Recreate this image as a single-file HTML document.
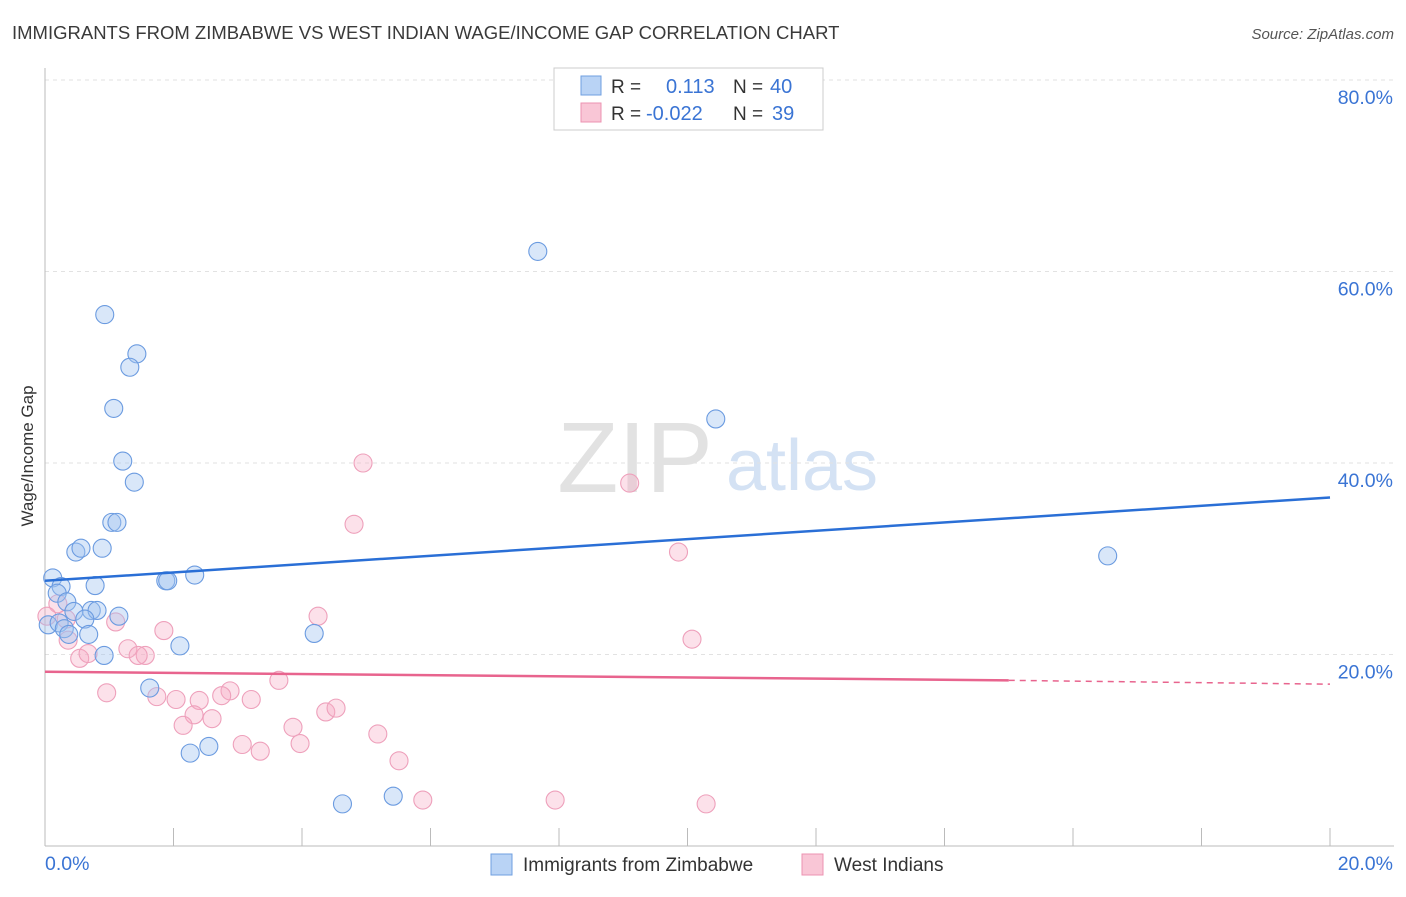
<!DOCTYPE html>
<html><head><meta charset="utf-8">
<style>
body{margin:0;background:#fff;font-family:"Liberation Sans",sans-serif;}
svg text{font-family:"Liberation Sans",sans-serif;}
</style></head>
<body>
<svg id="chart" width="1406" height="892">
<text x="12" y="39" font-size="18.5" fill="#3a3a3a">IMMIGRANTS FROM ZIMBABWE VS WEST INDIAN WAGE/INCOME GAP CORRELATION CHART</text>
<text x="1394" y="39" font-size="15" fill="#555" font-style="italic" text-anchor="end">Source: ZipAtlas.com</text>
<text x="33" y="456" font-size="17" fill="#333" text-anchor="middle" transform="rotate(-90 33 456)">Wage/Income Gap</text>
<g>
<text x="635" y="492" font-size="100" fill="#e2e2e2" font-family="Liberation Serif" text-anchor="middle">ZIP</text>
<text x="802" y="490" font-size="72" fill="#d4e2f4" text-anchor="middle">atlas</text>
</g>
<g id="grid"></g><g id="axes"></g><g id="marks"></g>
<g>
<rect x="554" y="68" width="269" height="62" fill="#fff" stroke="#ccc"/>
<rect x="581" y="76" width="20" height="19" fill="#b9d3f5" stroke="#6f9fe0"/>
<rect x="581" y="103" width="20" height="19" fill="#f9c6d6" stroke="#ec93b1"/>
<text x="611" y="93" font-size="19" fill="#333">R =</text><text x="666" y="93" font-size="20" fill="#3a74d4">0.113</text>
<text x="733" y="93" font-size="19" fill="#333">N =</text><text x="770" y="93" font-size="20" fill="#3a74d4">40</text>
<text x="611" y="120" font-size="19" fill="#333">R =</text><text x="646" y="120" font-size="20" fill="#3a74d4">-0.022</text>
<text x="733" y="120" font-size="19" fill="#333">N =</text><text x="772" y="120" font-size="20" fill="#3a74d4">39</text>
</g>
<g>
<rect x="491" y="854" width="21" height="21" fill="#b9d3f5" stroke="#6f9fe0"/>
<text x="523" y="871" font-size="19" fill="#333">Immigrants from Zimbabwe</text>
<rect x="802" y="854" width="21" height="21" fill="#f9c6d6" stroke="#ec93b1"/>
<text x="834" y="871" font-size="19" fill="#333">West Indians</text>
</g>
</svg>
<script>
const blueX=[7.67,0.93,1.43,1.32,1.07,1.21,1.39,10.44,16.54,1.04,1.12,0.48,0.56,0.89,0.12,0.25,0.78,1.88,1.91,2.33,0.19,0.34,0.72,0.81,1.15,0.45,0.05,0.22,0.62,0.30,0.37,0.68,2.10,0.92,1.63,2.55,2.26,4.19,4.63,5.42];
const blueY=[62.1,55.5,51.4,50.0,45.7,40.2,38.0,44.6,30.3,33.8,33.8,30.7,31.1,31.1,28.0,27.1,27.2,27.7,27.7,28.3,26.4,25.5,24.6,24.6,24.0,24.5,23.1,23.3,23.7,22.7,22.1,22.1,20.9,19.9,16.5,10.4,9.7,22.2,4.4,5.2];
const pinkX=[4.95,4.81,9.10,9.86,10.07,4.25,1.10,1.85,1.29,1.56,1.45,0.36,0.54,0.67,0.20,0.03,0.33,0.96,1.74,2.04,2.40,2.88,2.75,3.21,3.64,2.32,2.60,2.15,3.07,3.35,3.97,3.86,4.37,4.53,5.18,5.51,5.88,7.94,10.29];
const pinkY=[40.0,33.6,37.9,30.7,21.6,24.0,23.4,22.5,20.6,19.9,19.9,21.5,19.6,20.1,25.3,24.0,23.7,16.0,15.6,15.3,15.2,16.2,15.7,15.3,17.3,13.7,13.3,12.6,10.6,9.9,10.7,12.4,14.0,14.4,11.7,8.9,4.8,4.8,4.4];
const xTicks=[0,2,4,6,8,10,12,14,16,18,20];
const yTicks=[20,40,60,80];
const blueTrend=[[0,27.7],[20,36.4]];
const pinkTrend=[[0,18.2],[15,17.3],[20,16.9]];
const X=v=>45+v/20*1285, Y=v=>846-v/20*191.5;
const ns="http://www.w3.org/2000/svg";
function mk(t,p,a){const e=document.createElementNS(ns,t);for(const k in a)e.setAttribute(k,a[k]);p.appendChild(e);return e;}
const grid=document.getElementById('grid'),axes=document.getElementById('axes'),marks=document.getElementById('marks');
yTicks.forEach(t=>{
 const l=mk('line',grid,{x1:45,x2:1394,y1:Y(t),y2:Y(t),stroke:'#e2e2e2','stroke-dasharray':'4,4'});
 
 
 const tx=mk('text',axes,{x:1393,y:Y(t)+24,'font-size':19.5,fill:'#3a74d4','text-anchor':'end'});
 tx.textContent=t.toFixed(1)+'%';
 
 
});
const ax=mk('line',axes,{x1:45,x2:45,y1:68,y2:846,stroke:'#bbb'});


const bx=mk('line',axes,{x1:45,x2:1394,y1:846,y2:846,stroke:'#bbb'});


xTicks.forEach(t=>{
 const l=mk('line',axes,{x1:X(t),x2:X(t),y1:828,y2:846,stroke:'#bbb'});
 
 
});
const x0=mk('text',axes,{x:45,y:870,'font-size':19.5,fill:'#3a74d4'});x0.textContent=xTicks[0].toFixed(1)+'%';


const x1=mk('text',axes,{x:1393,y:870,'font-size':19.5,fill:'#3a74d4','text-anchor':'end'});x1.textContent=xTicks[xTicks.length-1].toFixed(1)+'%';


function pts(xs,ys,fill,stroke,name){xs.forEach((v,i)=>{
 const c=mk('circle',marks,{cx:X(v),cy:Y(ys[i]),r:9,fill:fill,stroke:stroke,'stroke-width':1.1});
 
 
});}
pts(pinkX,pinkY,'rgba(246,170,196,0.35)','#eea0bb','point-west-indians');
pts(blueX,blueY,'rgba(160,196,240,0.4)','#6b9be0','point-zimbabwe');
const bt=mk('line',marks,{x1:X(blueTrend[0][0]),y1:Y(blueTrend[0][1]),x2:X(blueTrend[1][0]),y2:Y(blueTrend[1][1]),stroke:'#2a6fd6','stroke-width':2.5});


const pt=mk('line',marks,{x1:X(pinkTrend[0][0]),y1:Y(pinkTrend[0][1]),x2:X(pinkTrend[1][0]),y2:Y(pinkTrend[1][1]),stroke:'#e8648e','stroke-width':2.5});


const pd=mk('line',marks,{x1:X(pinkTrend[1][0]),y1:Y(pinkTrend[1][1]),x2:X(pinkTrend[2][0]),y2:Y(pinkTrend[2][1]),stroke:'#e8648e','stroke-width':1.5,'stroke-dasharray':'6,5'});


</script>
</body></html>
